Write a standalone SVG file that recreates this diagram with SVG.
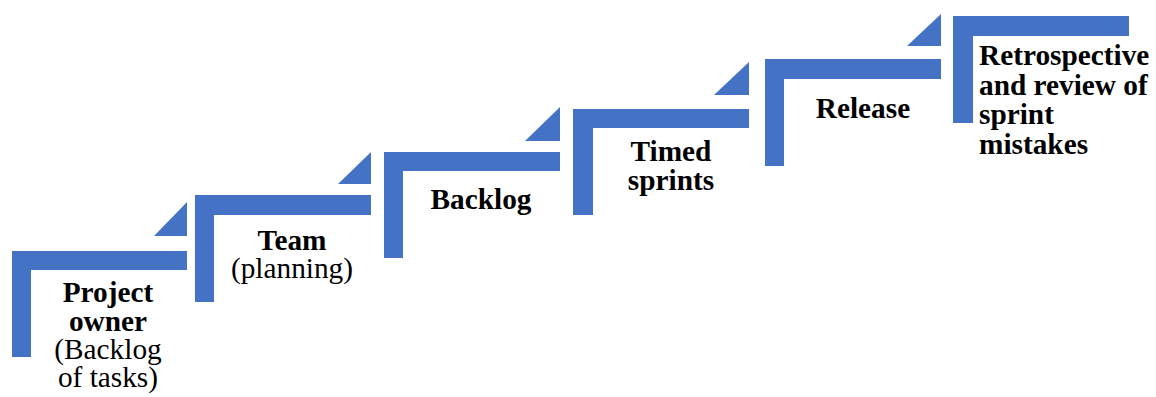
<svg xmlns="http://www.w3.org/2000/svg" width="1156" height="397" viewBox="0 0 1156 397">
<style>
.shape{fill:#4472C4;}
.t{font-family:"Liberation Serif","Times New Roman",serif;font-size:29.3px;fill:#000;}
.b{font-weight:bold;}
.c{text-anchor:middle;}
</style>
<rect width="1156" height="397" fill="#fff"/>
<g id="step1">
<path class="shape" d="M12,251 H187 V270 H31 V357 H12 Z"/>
<path class="shape" d="M154,236 H187 V202 Z"/>
<text class="t c" x="108"><tspan class="b" x="108" y="302">Project</tspan><tspan class="b" x="108" y="331">owner</tspan><tspan x="108" y="359">(Backlog</tspan><tspan x="108" y="387">of tasks)</tspan></text>
</g>
<g id="step2">
<path class="shape" d="M195,195 H371 V215 H214 V302 H195 Z"/>
<path class="shape" d="M338,184 H371 V152 Z"/>
<text class="t c" x="292"><tspan class="b" x="292" y="250">Team</tspan><tspan x="292" y="278">(planning)</tspan></text>
</g>
<g id="step3">
<path class="shape" d="M384,152 H560 V171 H403 V258 H384 Z"/>
<path class="shape" d="M525,141 H560 V107 Z"/>
<text class="t b c" x="481" y="209">Backlog</text>
</g>
<g id="step4">
<path class="shape" d="M573,109 H749 V128 H593 V215 H573 Z"/>
<path class="shape" d="M714,95 H749 V62 Z"/>
<text class="t b c" x="671"><tspan x="671" y="161">Timed</tspan><tspan x="671" y="190">sprints</tspan></text>
</g>
<g id="step5">
<path class="shape" d="M765,59 H941 V79 H784 V166 H765 Z"/>
<path class="shape" d="M907,46 H941 V14 Z"/>
<text class="t b c" x="863" y="118">Release</text>
</g>
<g id="step6">
<path class="shape" d="M953,16 H1129 V36 H973 V123 H953 Z"/>
<text class="t b"><tspan x="979" y="65">Retrospective</tspan><tspan x="979" y="95">and review of</tspan><tspan x="979" y="124">sprint</tspan><tspan x="979" y="154">mistakes</tspan></text>
</g>
<g id="connectors"></g>
</svg>
